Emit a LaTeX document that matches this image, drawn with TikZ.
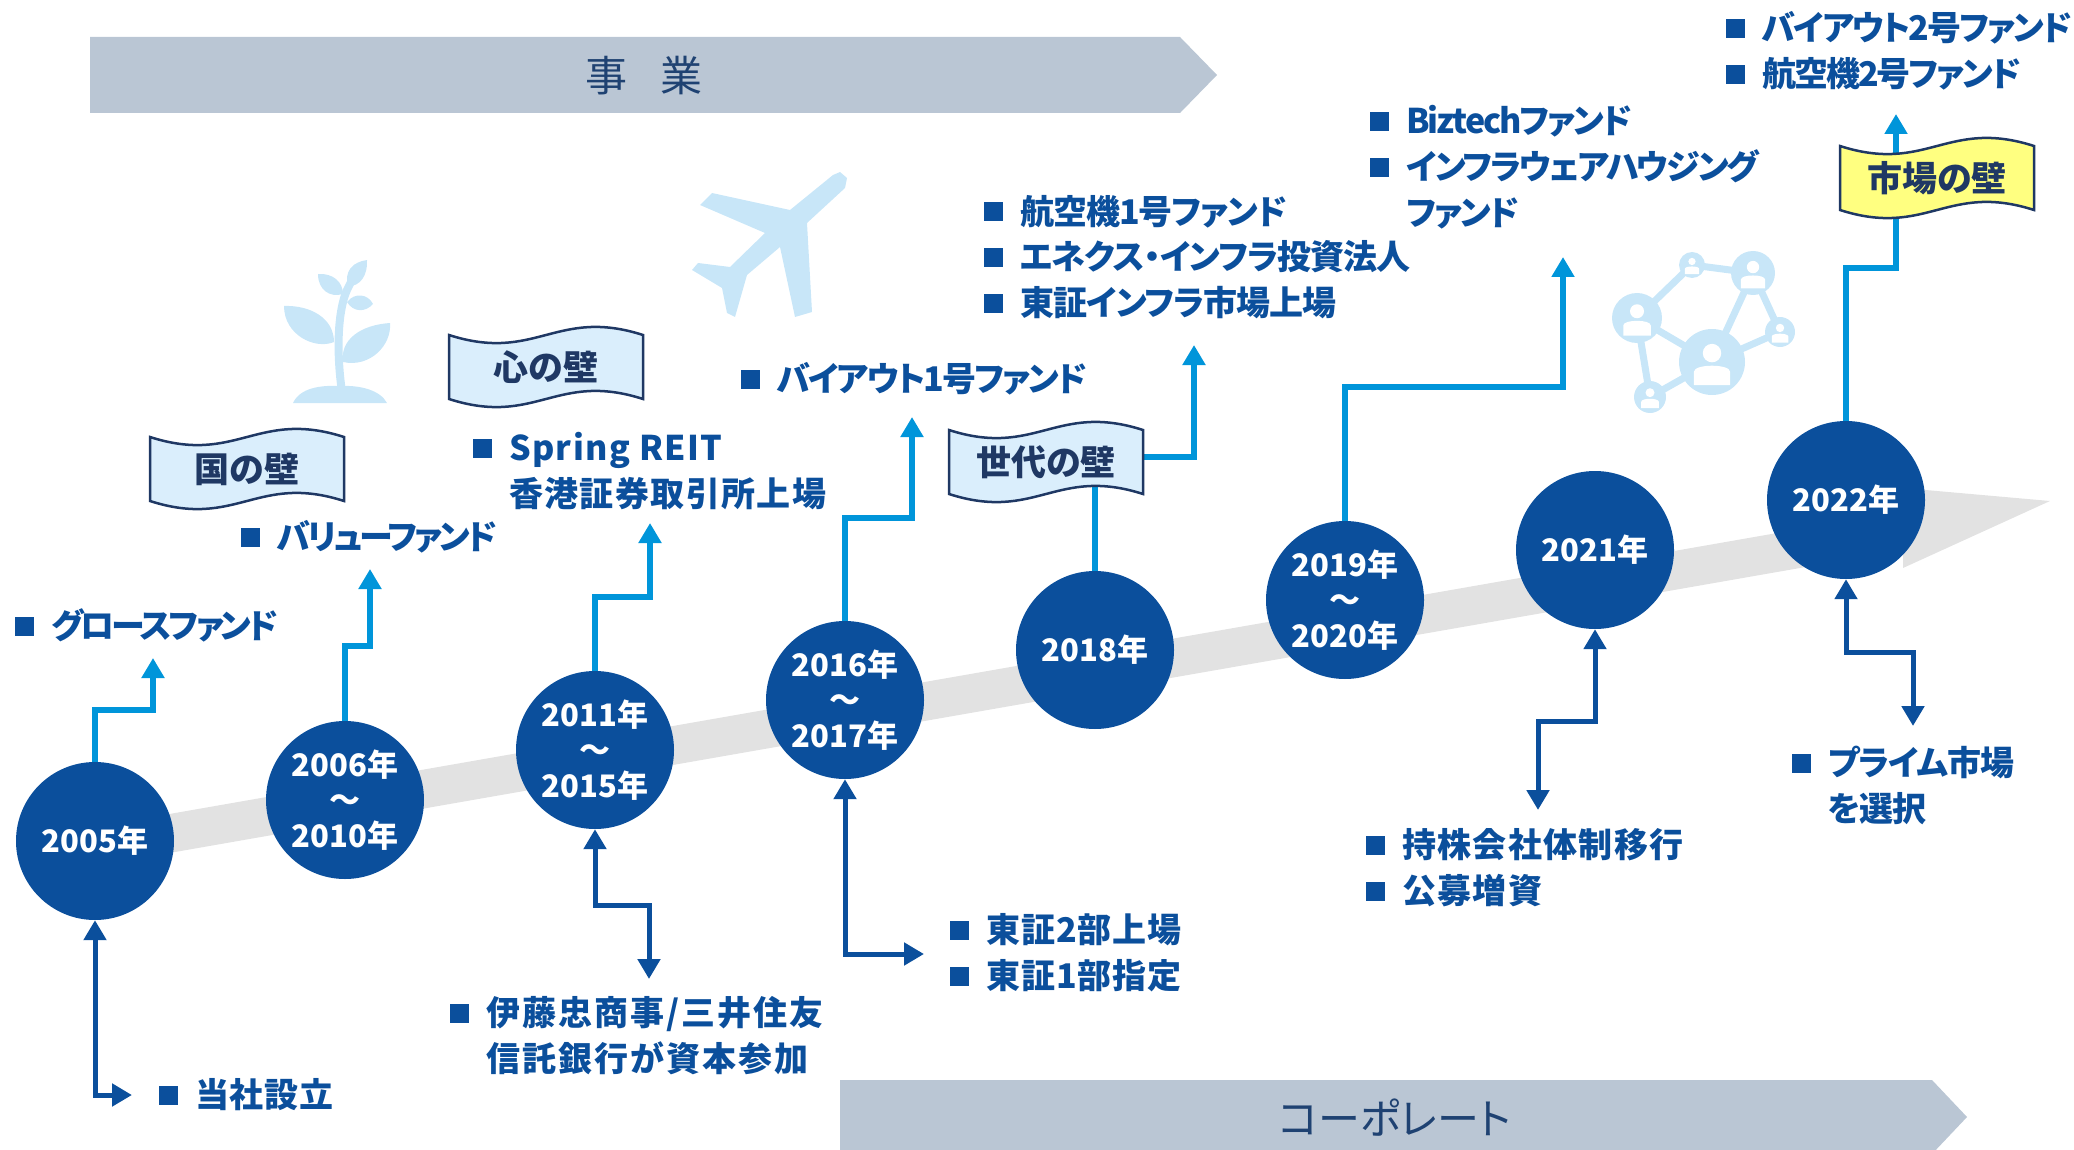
\documentclass[tikz,border=0pt]{standalone}
\usepackage{fontspec}
\setmainfont{Noto Sans CJK JP}[RawFeature=+palt]
\usepackage{tikz}
\usetikzlibrary{arrows.meta}

\definecolor{yearblue}{RGB}{11,79,156}
\definecolor{bizblue}{RGB}{0,149,218}
\definecolor{bandgray}{RGB}{226,226,226}
\definecolor{headgray}{RGB}{186,198,212}
\definecolor{headnavy}{RGB}{31,66,114}
\definecolor{flagnavy}{RGB}{31,56,100}
\definecolor{flagblue}{RGB}{218,238,252}
\definecolor{flagyellow}{RGB}{255,255,128}
\definecolor{iconblue}{RGB}{200,230,248}

\newcommand{\sqbullet}{\rule[2.5pt]{19pt}{19pt}\hspace{17pt}}
\newcommand{\sqindent}{\hspace{36pt}}

% wavy banner with its text node: x, y, fill, name, text
\newcommand{\wallflag}[5]{%
  \filldraw[flagedge, fill=#3] (#1-97,#2-32)
    .. controls (#1-10,#2-4) and (#1+10,#2-60) .. (#1+97,#2-32)
    -- (#1+97,#2+32)
    .. controls (#1+10,#2+4) and (#1-10,#2+60) .. (#1-97,#2+32) -- cycle;
  \node[walltext] (#4) at (#1,#2) {#5};}

\begin{document}
\begin{tikzpicture}[
  x=1pt, y=-1pt,
  year/.style={circle, fill=yearblue, minimum size=158pt, inner sep=0pt,
    text=white, align=center, font=\bfseries\fontsize{31}{35.5}\selectfont},
  item/.style={anchor=base west, inner sep=0pt, align=left, text=yearblue,
    font=\bfseries\fontsize{34}{46}\selectfont\addfontfeature{LetterSpace=#1}},
  item/.default=0,
  headlabel/.style={text=headnavy, font=\fontsize{42}{50}\selectfont},
  flagedge/.style={draw=flagnavy, line width=2.5pt},
  walltext/.style={text=flagnavy, font=\bfseries\fontsize{35}{40}\selectfont},
  biz/.style={draw=bizblue, line width=6pt, -{Triangle[length=20pt,width=22pt]}},
  corp/.style={draw=yearblue, line width=5pt,
    {Triangle[length=20pt,width=22pt]}-{Triangle[length=20pt,width=22pt]}}
]
  \useasboundingbox (0,0) rectangle (2074,1150);

  \fill[headgray] (90,37) -- (1180,37) -- (1217,75) -- (1180,113) -- (90,113) -- cycle;
  \node[headlabel] (bizhead) at (644,76) {事\hspace{0.8em}業};
  \fill[headgray] (840,1080) -- (1932,1080) -- (1967,1117) -- (1932,1154) -- (840,1154) -- cycle;
  \node[headlabel] (corphead) at (1395,1118) {コーポレート};

  \fill[bandgray] (95,827) -- (1903,511) -- (1903,488) -- (2050,501)
    -- (1903,568) -- (1903,550) -- (95,866) -- cycle;

  % sprout
  \fill[iconblue] (293,403) .. controls (300,388) and (320,385) .. (340,386)
    .. controls (360,385) and (380,390) .. (387,403) -- cycle;
  \draw[iconblue, line width=8pt] (342,392) .. controls (336,350) and (338,310) .. (347,290)
    .. controls (352,280) and (356,272) .. (358,266);
  \fill[iconblue] (334,342) .. controls (315,350) and (284,335) .. (284,306)
    .. controls (310,305) and (334,318) .. (334,342);
  \fill[iconblue] (343,362) .. controls (340,340) and (360,325) .. (390,323)
    .. controls (392,345) and (370,368) .. (343,362);
  \fill[iconblue] (343,294) .. controls (330,298) and (318,290) .. (318,274)
    .. controls (333,273) and (343,282) .. (343,294);
  \fill[iconblue] (348,286) .. controls (344,272) and (352,262) .. (367,260)
    .. controls (368,275) and (360,287) .. (348,286);
  \fill[iconblue] (347,302) .. controls (355,292) and (368,294) .. (373,304)
    .. controls (365,313) and (353,312) .. (347,302);

  % plane
  \fill[iconblue] (833,175) -- (840,172) -- (847,178) -- (845,188) -- (807,223)
    -- (812,312) -- (795,317) -- (780,247) -- (747,275) -- (735,317) -- (727,313)
    -- (722,288) -- (692,270) -- (698,263) -- (730,267) -- (765,233) -- (700,205)
    -- (712,193) -- (790,210) -- cycle;

  % people network
  \draw[iconblue, line width=7pt] (1692,265) -- (1753,273) -- (1780,332) -- (1712,362)
    -- (1650,397) -- (1637,318) -- cycle (1753,273) -- (1712,362) -- (1637,318);
  \foreach \cx/\cy/\r in {1692/265/13, 1753/273/22, 1637/318/25,
                          1780/332/15, 1712/362/33, 1650/397/16} {
    \fill[iconblue] (\cx,\cy) circle (\r pt);
    \fill[white] (\cx,\cy-0.27*\r) circle (0.28*\r pt);
    \fill[white] (\cx-0.55*\r,\cy+0.7*\r) -- (\cx-0.55*\r,\cy+0.3*\r)
      .. controls (\cx-0.55*\r,\cy+0.05*\r) and (\cx+0.55*\r,\cy+0.05*\r)
      .. (\cx+0.55*\r,\cy+0.3*\r) -- (\cx+0.55*\r,\cy+0.7*\r) -- cycle;
  }

  \node[year] (y2005) at (95,841) {2005年};
  \node[year] (y2006) at (345,800) {2006年\\～\\2010年};
  \node[year] (y2011) at (595,750) {2011年\\～\\2015年};
  \node[year] (y2016) at (845,700) {2016年\\～\\2017年};
  \node[year] (y2018) at (1095,650) {2018年};
  \node[year] (y2019) at (1345,600) {2019年\\～\\2020年};
  \node[year] (y2021) at (1595,550) {2021年};
  \node[year] (y2022) at (1846,500) {2022年};

  \coordinate (b2005) at (153,658);
  \coordinate (b2006) at (370,569);
  \coordinate (b2011) at (650,523);
  \coordinate (b2016) at (912,417);
  \coordinate (b2018) at (1194,345);
  \coordinate (b2019) at (1563,257);
  \coordinate (b2022) at (1896,114);
  \coordinate (c2005) at (132,1095);
  \coordinate (c2011) at (649,979);
  \coordinate (c2016) at (924,954);
  \coordinate (c2021) at (1538,810);
  \coordinate (c2022) at (1913,726);

  \path[biz] (y2005.north) -- ++(0,-52) -| (b2005);
  \path[biz] (y2006.north) -- ++(0,-75) -| (b2006);
  \path[biz] (y2011.north) -- ++(0,-74) -| (b2011);
  \path[biz] (y2016.north) -- ++(0,-103) -| (b2016);
  \path[biz] (y2018.north) -- ++(0,-114) -| (b2018);
  \path[biz] (y2019.north) -- ++(0,-134) -| (b2019);
  \path[biz] (y2022.north) -- ++(0,-153) -| (b2022);

  \path[corp] (y2005.south) |- (c2005);
  \path[corp] (y2011.south) -- ++(0,76) -| (c2011);
  \path[corp] (y2016.south) |- (c2016);
  \path[corp] (y2021.south) -- ++(0,92) -| (c2021);
  \path[corp] (y2022.south) -- ++(0,73) -| (c2022);

  \wallflag{247}{469}{flagblue}{wallcountry}{国の壁}
  \wallflag{546}{367}{flagblue}{wallmind}{心の壁}
  \wallflag{1046}{462}{flagblue}{wallgen}{世代の壁}
  \wallflag{1937}{178}{flagyellow}{wallmarket}{市場の壁}

  \node[item=-9] (growth) at (15,638) {\sqbullet グロースファンド};
  \node[item=-9] (value) at (241,549) {\sqbullet バリューファンド};
  \node[item=4] (spring) at (473,506) {\sqbullet Spring REIT\\\sqindent 香港証券取引所上場};
  \node[item=6] (itochu) at (450,1071) {\sqbullet 伊藤忠商事/三井住友\\\sqindent 信託銀行が資本参加};
  \node[item=2] (founded) at (159,1107) {\sqbullet 当社設立};
  \node[item=-6] (buyout1) at (741,391) {\sqbullet バイアウト1号ファンド};
  \node[item=3] (tse) at (950,988) {\sqbullet 東証2部上場\\\sqbullet 東証1部指定};
  \node[item=-3] (aircraft1) at (984,316) {\sqbullet 航空機1号ファンド\\\sqbullet エネクス・インフラ投資法人\\\sqbullet 東証インフラ市場上場};
  \node[item=-6] (biztech) at (1370,226) {\sqbullet Biztechファンド\\\sqbullet インフラウェアハウジング\\\sqindent ファンド};
  \node[item=4] (holding) at (1366,903) {\sqbullet 持株会社体制移行\\\sqbullet 公募増資};
  \node[item=-6] (buyout2) at (1726,87) {\sqbullet バイアウト2号ファンド\\\sqbullet 航空機2号ファンド};
  \node[item=-3] (prime) at (1792,821) {\sqbullet プライム市場\\\sqindent を選択};
\end{tikzpicture}
\end{document}
